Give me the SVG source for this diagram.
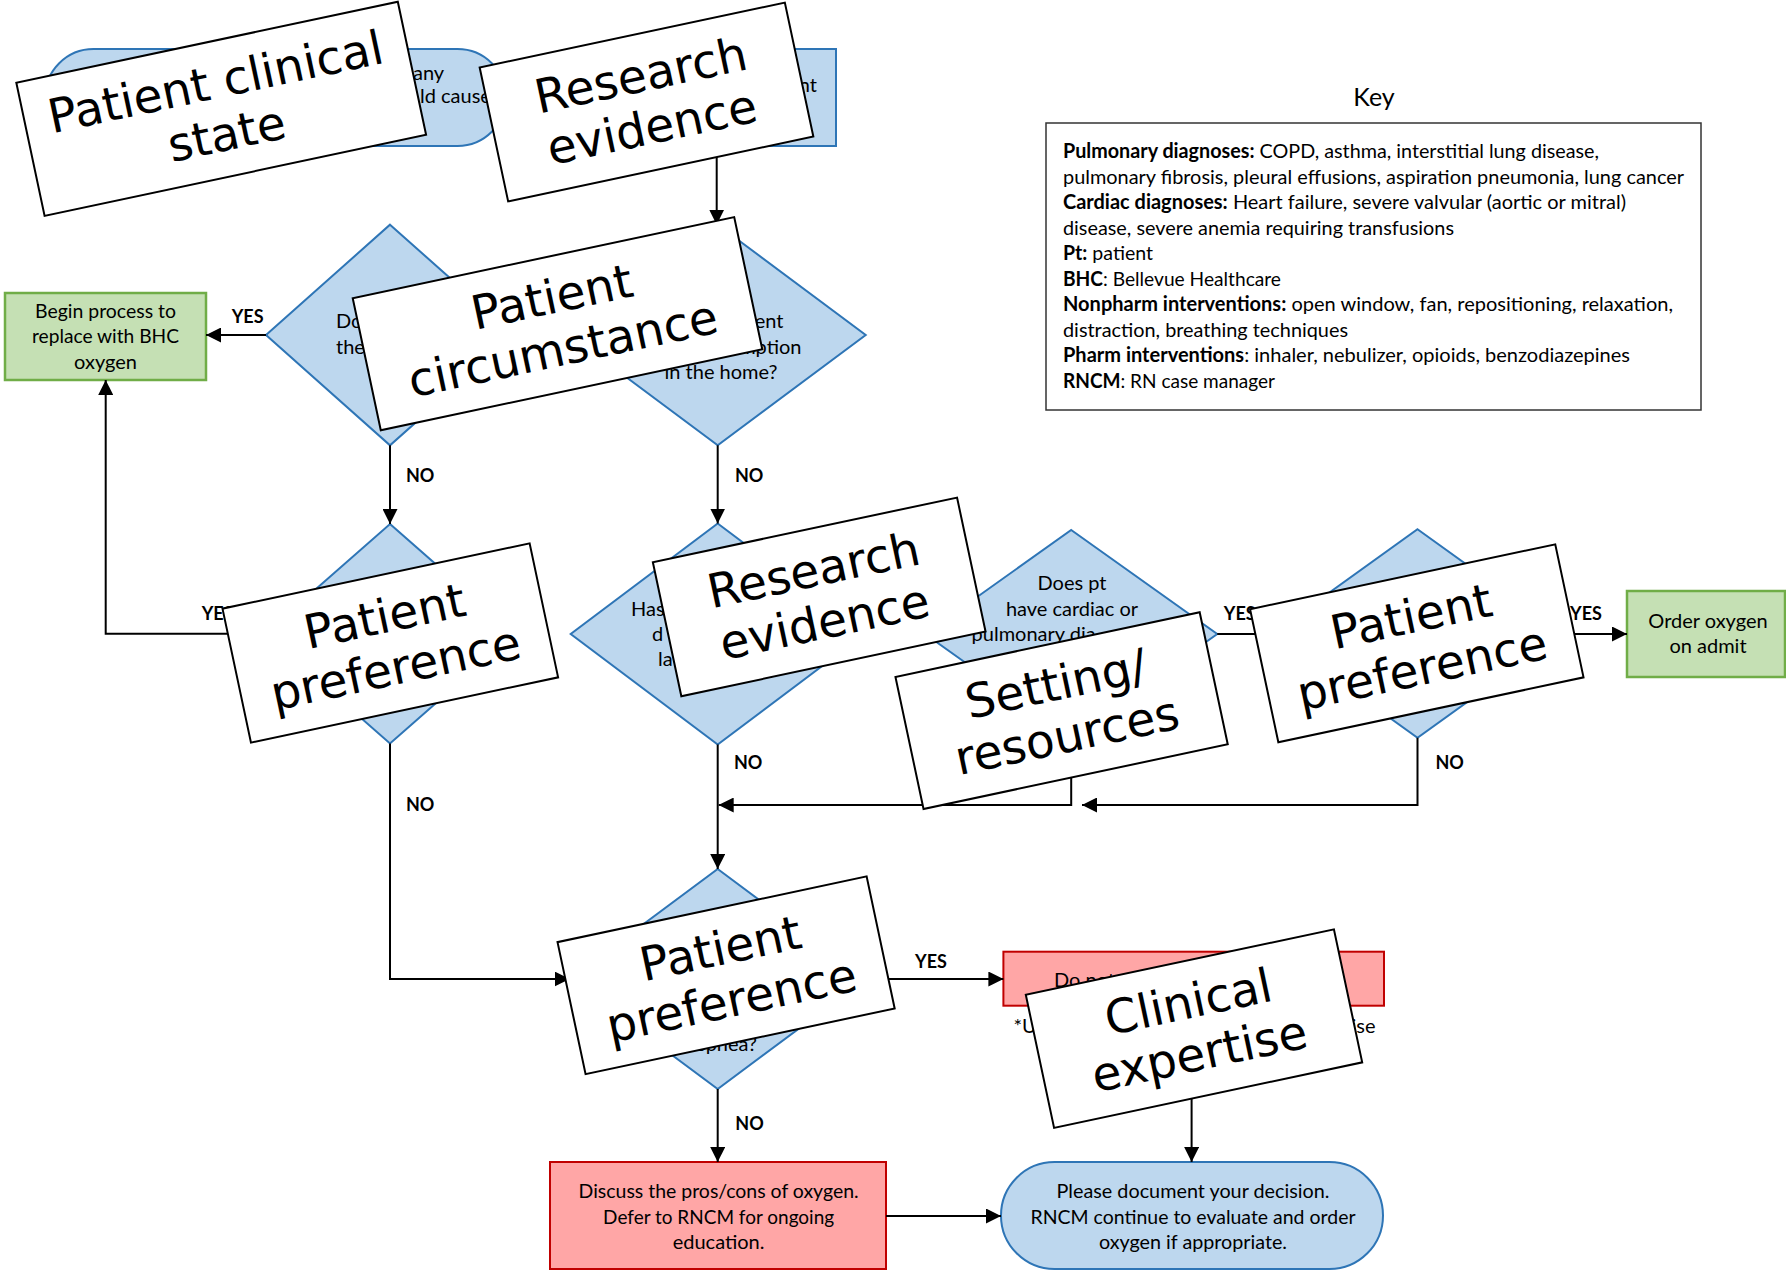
<svg xmlns="http://www.w3.org/2000/svg" width="1786" height="1271" viewBox="0 0 1786 1271">
  <defs>
    <style>
      .blue{fill:#bdd7ee;stroke:#2e75b6;stroke-width:2}
      .green{fill:#c5e0b4;stroke:#70ad47;stroke-width:2.5}
      .red{fill:#ffa6a6;stroke:#c00000;stroke-width:2}
      .t{font-family:Lato,"Liberation Sans",sans-serif;font-size:20px;fill:#000}
      .c{text-anchor:middle}
      .e{text-anchor:end}
      .b{font-weight:700}
      .lbl{font-family:Lato,"Liberation Sans",sans-serif;font-size:18px;font-weight:700;fill:#000}
      .wire{fill:none;stroke:#000;stroke-width:2}
      .arr{marker-end:url(#ah)}
      .over rect{fill:#fff;stroke:#000;stroke-width:2}
      .over text{font-family:"DejaVu Sans",sans-serif;font-size:47px;text-anchor:middle;fill:#000}
    </style>
    <marker id="ah" viewBox="0 0 10 10" refX="10" refY="5" markerWidth="15" markerHeight="15" markerUnits="userSpaceOnUse" orient="auto">
      <path d="M0,0 L10,5 L0,10 z" fill="#000"/>
    </marker>
  </defs>
  <rect width="1786" height="1271" fill="#fff"/>

  <!-- flowchart nodes -->
  <g id="start">
    <rect class="blue" x="45" y="49" width="461" height="97" rx="48.5"/>
    <text class="t" x="413" y="80">any</text>
    <text class="t" x="420" y="103">ld cause</text>
  </g>
  <g id="step-top">
    <rect class="blue" x="580" y="49" width="256" height="97"/>
    <text class="t e" x="817" y="92">nt</text>
  </g>
  <g id="d1">
    <polygon class="blue" points="390,224.7 514,335 390,445.3 266,335"/>
    <text class="t" x="336" y="328">Do</text>
    <text class="t" x="336" y="354">the</text>
  </g>
  <g id="d2">
    <polygon class="blue" points="717.7,224.7 865.7,335 717.7,445.3 569.7,335"/>
    <text class="t e" x="783.5" y="328">ent</text>
    <text class="t e" x="801.5" y="354">mption</text>
    <text class="t c" x="721" y="379">in the home?</text>
  </g>
  <g id="green-bhc">
    <rect class="green" x="5" y="293" width="201" height="87"/>
    <text class="t c" x="105.5" y="318" textLength="141" lengthAdjust="spacingAndGlyphs">Begin process to</text>
    <text class="t c" x="105.5" y="343" textLength="147" lengthAdjust="spacingAndGlyphs">replace with BHC</text>
    <text class="t c" x="105.5" y="369">oxygen</text>
  </g>
  <g id="d3">
    <polygon class="blue" points="390,524 515,633.7 390,743.4 265,633.7"/>
  </g>
  <g id="d4">
    <polygon class="blue" points="717.7,523.5 864.7,634 717.7,744.5 570.7,634"/>
    <text class="t" x="631" y="616">Has</text>
    <text class="t" x="652" y="641">d</text>
    <text class="t" x="658" y="666">la</text>
  </g>
  <g id="d5">
    <polygon class="blue" points="1071.2,530 1217.2,634 1071.2,738 925.2,634"/>
    <text class="t c" x="1072" y="590">Does pt</text>
    <text class="t c" x="1072" y="616">have cardiac or</text>
    <text class="t" x="971.6" y="641">pulmonary dia</text>
  </g>
  <g id="d6">
    <polygon class="blue" points="1417.5,529.3 1562.5,633.5 1417.5,737.7 1272.5,633.5"/>
  </g>
  <g id="green-order">
    <rect class="green" x="1627" y="591" width="158" height="86"/>
    <text class="t c" x="1708" y="628">Order oxygen</text>
    <text class="t c" x="1708" y="653">on admit</text>
  </g>
  <g id="d7">
    <polygon class="blue" points="717.7,869 865.7,979 717.7,1089 569.7,979"/>
    <text class="t e" x="757" y="1051">spnea?</text>
  </g>
  <g id="red-do-not">
    <rect class="red" x="1003.4" y="951.7" width="380.6" height="54"/>
    <text class="t" x="1054" y="987">Do not</text>
    <text class="t" x="1013.5" y="1033">*U</text>
    <text class="t e" x="1375.5" y="1033">ise</text>
  </g>
  <g id="red-discuss">
    <rect class="red" x="550" y="1162" width="336" height="107"/>
    <text class="t c" x="718.6" y="1198" textLength="280" lengthAdjust="spacingAndGlyphs">Discuss the pros/cons of oxygen.</text>
    <text class="t c" x="718.6" y="1224" textLength="231" lengthAdjust="spacingAndGlyphs">Defer to RNCM for ongoing</text>
    <text class="t c" x="718.6" y="1249">education.</text>
  </g>
  <g id="end">
    <rect class="blue" x="1001" y="1162" width="382" height="107" rx="53.5"/>
    <text class="t c" x="1193" y="1198" textLength="273" lengthAdjust="spacingAndGlyphs">Please document your decision.</text>
    <text class="t c" x="1193" y="1224" textLength="325" lengthAdjust="spacingAndGlyphs">RNCM continue to evaluate and order</text>
    <text class="t c" x="1193" y="1249" textLength="188" lengthAdjust="spacingAndGlyphs">oxygen if appropriate.</text>
  </g>

  <!-- key -->
  <g id="key">
    <text class="t c" x="1374" y="106" style="font-size:25px">Key</text>
    <rect x="1046" y="123" width="655" height="287" fill="#fff" stroke="#333" stroke-width="1.5"/>
    <g class="t">
      <text x="1063" y="158" textLength="536" lengthAdjust="spacingAndGlyphs"><tspan class="b">Pulmonary diagnoses:</tspan> COPD, asthma, interstitial lung disease,</text>
      <text x="1063" y="183.5" textLength="621" lengthAdjust="spacingAndGlyphs">pulmonary fibrosis, pleural effusions, aspiration pneumonia, lung cancer</text>
      <text x="1063" y="209" textLength="563" lengthAdjust="spacingAndGlyphs"><tspan class="b">Cardiac diagnoses:</tspan> Heart failure, severe valvular (aortic or mitral)</text>
      <text x="1063" y="234.5" textLength="391" lengthAdjust="spacingAndGlyphs">disease, severe anemia requiring transfusions</text>
      <text x="1063" y="260" textLength="90" lengthAdjust="spacingAndGlyphs"><tspan class="b">Pt:</tspan> patient</text>
      <text x="1063" y="285.5" textLength="218" lengthAdjust="spacingAndGlyphs"><tspan class="b">BHC</tspan>: Bellevue Healthcare</text>
      <text x="1063" y="311" textLength="610" lengthAdjust="spacingAndGlyphs"><tspan class="b">Nonpharm interventions:</tspan> open window, fan, repositioning, relaxation,</text>
      <text x="1063" y="336.5" textLength="285" lengthAdjust="spacingAndGlyphs">distraction, breathing techniques</text>
      <text x="1063" y="362" textLength="567" lengthAdjust="spacingAndGlyphs"><tspan class="b">Pharm interventions</tspan>: inhaler, nebulizer, opioids, benzodiazepines</text>
      <text x="1063" y="387.5" textLength="212" lengthAdjust="spacingAndGlyphs"><tspan class="b">RNCM</tspan>: RN case manager</text>
    </g>
  </g>

  <!-- connectors and branch labels -->
  <g id="connectors">
    <path class="wire arr" d="M716.7,150 V224.7"/>
    <path class="wire arr" d="M266,335 H206"/>
    <path class="wire arr" d="M390,445.3 V524"/>
    <path class="wire arr" d="M717.7,445.3 V523.5"/>
    <path class="wire arr" d="M265,633.7 H105.7 V380"/>
    <path class="wire arr" d="M390,743.4 V979 H569.7"/>
    <path class="wire arr" d="M717.7,744.5 V869"/>
    <path class="wire arr" d="M1071.2,738 V805 H718.7"/>
    <path class="wire arr" d="M1217.2,634 H1272.5"/>
    <path class="wire arr" d="M1562.5,634 H1627"/>
    <path class="wire arr" d="M1417.5,737.7 V805 H1082"/>
    <path class="wire arr" d="M865.7,979 H1003.4"/>
    <path class="wire arr" d="M717.7,1089 V1162"/>
    <path class="wire arr" d="M1191.6,1005.7 V1162"/>
    <path class="wire arr" d="M886,1216 H1001"/>
    <text class="lbl" x="231.7" y="323">YES</text>
    <text class="lbl" x="406" y="482">NO</text>
    <text class="lbl" x="735" y="482">NO</text>
    <text class="lbl" x="201.7" y="619.5">YES</text>
    <text class="lbl" x="406" y="811">NO</text>
    <text class="lbl" x="734" y="769">NO</text>
    <text class="lbl" x="1223.8" y="620">YES</text>
    <text class="lbl" x="1570" y="620">YES</text>
    <text class="lbl" x="1435.4" y="768.5">NO</text>
    <text class="lbl" x="915" y="968">YES</text>
    <text class="lbl" x="735.3" y="1130">NO</text>
  </g>

  <!-- rotated category cards laid over the chart -->
  <g id="card-clinical-state" class="over" transform="translate(221.2 108.8) rotate(-12)">
    <rect x="-195" y="-68" width="390" height="136"/>
    <text y="-11">Patient clinical</text>
    <text y="42">state</text>
  </g>
  <g id="card-research-1" class="over" transform="translate(646.5 102) rotate(-12)">
    <rect x="-156" y="-68.5" width="312" height="137"/>
    <text y="-11">Research</text>
    <text y="42">evidence</text>
  </g>
  <g id="card-circumstance" class="over" transform="translate(557.5 323.7) rotate(-12)">
    <rect x="-195" y="-67.5" width="390" height="135"/>
    <text y="-11">Patient</text>
    <text y="42">circumstance</text>
  </g>
  <g id="card-preference-1" class="over" transform="translate(390.3 643) rotate(-12)">
    <rect x="-157" y="-68.5" width="314" height="137"/>
    <text y="-11">Patient</text>
    <text y="42">preference</text>
  </g>
  <g id="card-research-2" class="over" transform="translate(819.2 596.9) rotate(-12)">
    <rect x="-155.5" y="-68.5" width="311" height="137"/>
    <text y="-11">Research</text>
    <text y="42">evidence</text>
  </g>
  <g id="card-setting" class="over" transform="translate(1061.6 710.6) rotate(-12)">
    <rect x="-155.5" y="-67.5" width="311" height="135"/>
    <text y="-11">Setting/</text>
    <text y="42">resources</text>
  </g>
  <g id="card-preference-2" class="over" transform="translate(1416.8 643.3) rotate(-12)">
    <rect x="-156" y="-68" width="312" height="136"/>
    <text y="-11">Patient</text>
    <text y="42">preference</text>
  </g>
  <g id="card-preference-3" class="over" transform="translate(726.1 975.3) rotate(-12)">
    <rect x="-158" y="-67.5" width="316" height="135"/>
    <text y="-11">Patient</text>
    <text y="42">preference</text>
  </g>
  <g id="card-expertise" class="over" transform="translate(1194 1028.6) rotate(-12)">
    <rect x="-157.5" y="-68" width="315" height="136"/>
    <text y="-11">Clinical</text>
    <text y="42">expertise</text>
  </g>
</svg>
